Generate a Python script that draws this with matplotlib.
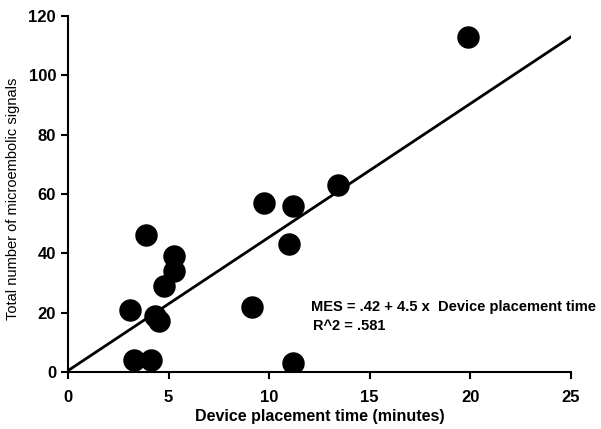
import matplotlib.pyplot as plt
import numpy as np

# Data
placement_time = [3.1, 3.3, 4.15, 3.9, 4.35, 4.55, 4.8, 5.25, 5.25, 9.15, 9.75, 11.2, 11.0, 11.2, 13.4, 19.9]
mes_count = [21, 4, 4, 46, 19, 17, 29, 39, 34, 22, 57, 56, 43, 3, 63, 113]

intercept = 0.42
slope = 4.5

plt.rcParams['font.family'] = ['Liberation Sans', 'DejaVu Sans']

fig = plt.figure(figsize=(6.01, 4.29), dpi=100)
ax = fig.add_axes([0.113, 0.133, 0.837, 0.83])

ax.scatter(placement_time, mes_count, s=230, color='black', zorder=3)

xfit = np.array([0, 25])
ax.plot(xfit, intercept + slope * xfit, color='black', lw=2, zorder=2)

ax.set_xlim(0, 25)
ax.set_ylim(0, 120)
ax.set_xticks(range(0, 26, 5))
ax.set_yticks(range(0, 121, 20))
ax.spines['top'].set_visible(False)
ax.spines['right'].set_visible(False)
ax.spines['left'].set_linewidth(1.5)
ax.spines['bottom'].set_linewidth(1.5)
ax.tick_params(direction='out', length=5, width=1.5, labelsize=12)
for lab in ax.get_xticklabels() + ax.get_yticklabels():
    lab.set_fontweight('bold')
ax.tick_params(axis='x', pad=8)

ax.set_xlabel('Device placement time (minutes)', fontsize=11.5, fontweight='bold', labelpad=3)
ax.set_ylabel('Total number of microembolic signals', fontsize=10.5, labelpad=8)
ax.yaxis.set_label_coords(-0.095, 0.485)

ax.text(12.1, 22, 'MES = .42 + 4.5 x  Device placement time', fontsize=10.5,
        fontweight='bold', va='center')
ax.text(12.2, 15.5, 'R^2 = .581', fontsize=10.5, fontweight='bold', va='center')

fig.savefig('out.png', dpi=100)
